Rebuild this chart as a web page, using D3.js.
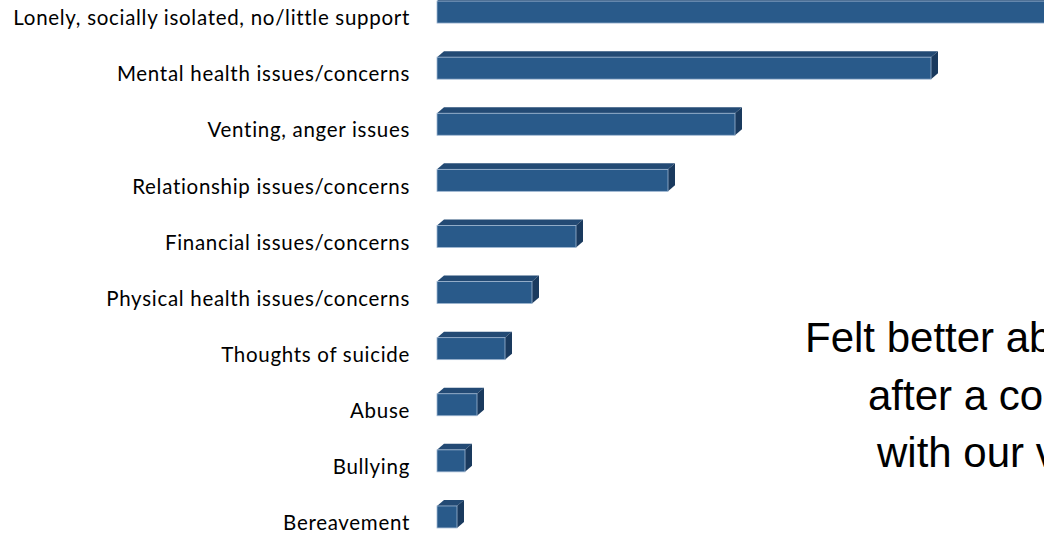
<!DOCTYPE html>
<html>
<head>
<meta charset="utf-8">
<script src="https://cdn.jsdelivr.net/npm/d3@7"></script>
<style>
  body { margin: 0; background: #fff; }
  svg { display: block; }
</style>
</head>
<body>
<div id="chart"></div>
<script>
var categories = [
  'Lonely, socially isolated, no/little support',
  'Mental health issues/concerns',
  'Venting, anger issues',
  'Relationship issues/concerns',
  'Financial issues/concerns',
  'Physical health issues/concerns',
  'Thoughts of suicide',
  'Abuse',
  'Bullying',
  'Bereavement'
];
var values = [70, 49.4, 29.8, 23.1, 13.9, 9.5, 6.8, 4.0, 2.8, 2.0];
var noteLines = ['Felt better about themselves', 'after a conversation', 'with our volunteers'];

var chartWidth = 1044;
var chartHeight = 537;
var barH = 22;
var depthX = 7;
var depthY = 6;

var svg = d3.select('#chart')
    .append('svg')
    .attr('width', chartWidth)
    .attr('height', chartHeight);

// Scales
var scaleX = d3.scaleLinear()
    .domain([0, 100])
    .range([437, 1437]);

var scaleY = d3.scaleBand()
    .domain(categories)
    .range([-16, 545]);

var rows = categories.map(function(c, i) {
  return {name: c, value: values[i]};
});

// Labels
svg.append('g').selectAll('text')
    .data(rows)
    .enter()
    .append('text')
    .attr('x', 410)
    .attr('y', function(d) {
      return scaleY(d.name) + scaleY.bandwidth() / 2 + 6;
    })
    .attr('dy', '0.35em')
    .attr('text-anchor', 'end')
    .attr('font-family', 'Lato, sans-serif')
    .attr('font-size', 20.5)
    .attr('letter-spacing', 0.7)
    .attr('fill', '#000')
    .text(function(d) { return d.name; });

// 3D bars
var bars = svg.append('g').selectAll('g')
    .data(rows)
    .enter()
    .append('g');

function frontTop(d) {
  return scaleY(d.name) + scaleY.bandwidth() / 2 - barH / 2;
}

// top face
bars.append('path')
    .attr('d', function(d) {
      var x0 = scaleX(0), x1 = scaleX(d.value), y = frontTop(d);
      return 'M' + x0 + ',' + y +
          'L' + (x0 + depthX) + ',' + (y - depthY) +
          'L' + (x1 + depthX) + ',' + (y - depthY) +
          'L' + x1 + ',' + y + 'Z';
    })
    .attr('fill', '#234a74');

// side face
bars.append('path')
    .attr('d', function(d) {
      var x1 = scaleX(d.value), y = frontTop(d);
      return 'M' + x1 + ',' + y +
          'L' + (x1 + depthX) + ',' + (y - depthY) +
          'L' + (x1 + depthX) + ',' + (y - depthY + barH) +
          'L' + x1 + ',' + (y + barH) + 'Z';
    })
    .attr('fill', '#1a3a5e');

// front face
bars.append('rect')
    .attr('x', scaleX(0))
    .attr('y', frontTop)
    .attr('width', function(d) { return scaleX(d.value) - scaleX(0); })
    .attr('height', barH)
    .attr('fill', '#295a8a')
    .attr('stroke', '#9fb7d2')
    .attr('stroke-width', 0.8);

// Overlay note
svg.append('g').selectAll('text')
    .data(noteLines)
    .enter()
    .append('text')
    .attr('x', function(d, i) { return [805, 868, 877][i]; })
    .attr('y', function(d, i) { return 352 + i * 57.5; })
    .attr('font-family', 'Liberation Sans, Arial, sans-serif')
    .attr('font-size', 42)
    .attr('fill', '#000')
    .text(function(d) { return d; });
</script>
</body>
</html>
